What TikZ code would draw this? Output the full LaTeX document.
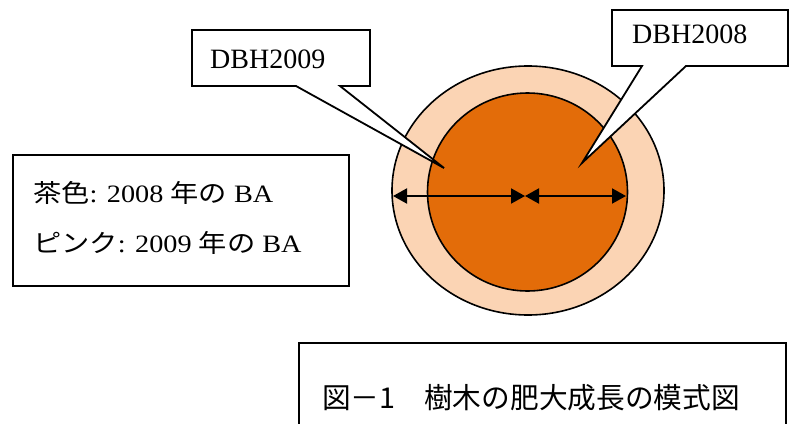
\documentclass[tikz,border=0pt]{standalone}
\usepackage{fontspec}
\usepackage{graphicx}
\setmainfont{Liberation Serif}
\newfontfamily\cjk{Noto Sans CJK JP}
\usetikzlibrary{arrows.meta}
\definecolor{ringpeach}{HTML}{FBD4B4}
\definecolor{coreorange}{HTML}{E36C09}
\tikzset{
  boxline/.style={draw=black, line width=1.8pt, fill=white, line join=miter},
  ringline/.style={draw=black, line width=1.6pt},
  dimarrow/.style={line width=2pt, {Triangle[length=14pt,width=15pt]}-{Triangle[length=14pt,width=15pt]}},
  lbl/.style={inner sep=0pt, anchor=base west},
}
\newcommand{\legtext}[1]{\scalebox{1.13}[1]{\fontsize{25}{27}\selectfont #1}}
\begin{document}
\begin{tikzpicture}[x=1pt,y=-1pt]
\useasboundingbox (0,0) rectangle (789,423);
% tree rings
\draw[ringline, fill=ringpeach] (528,190.5) ellipse [x radius=136, y radius=124.5];
\draw[ringline, fill=coreorange] (527.5,192) ellipse [x radius=100, y radius=99];
% dimension arrows
\coordinate (L) at (393,196);
\coordinate (M) at (525,196);
\coordinate (R) at (626,196);
\draw[dimarrow] (L) -- (M);
\draw[dimarrow] (M) -- (R);
% callout DBH2009
\coordinate (t09) at (444,168);
\draw[boxline] (192,30) -- (370,30) -- (370,86) -- (340,86) -- (t09) -- (296,86) -- (192,86) -- cycle;
\node[lbl, font=\fontsize{28}{30}\selectfont] (dbh09) at (210,68) {DBH2009};
% callout DBH2008
\coordinate (t08) at (582,163);
\draw[boxline] (612,10) -- (788,10) -- (788,66) -- (686,66) -- (t08) -- (642,66) -- (612,66) -- cycle;
\node[lbl, font=\fontsize{28}{30}\selectfont] (dbh08) at (632,43) {DBH2008};
% legend
\draw[boxline] (13,155) rectangle (349,286);
\node[lbl] (leg1) at (33,202) {\legtext{{\cjk 茶色}: 2008 {\cjk 年の} BA}};
\node[lbl] (leg2) at (33,252) {\legtext{{\cjk ピンク}: 2009 {\cjk 年の} BA}};
% caption
\begin{scope}
\clip (0,0) rectangle (789,423);
\draw[boxline] (299,343) rectangle (786,440);
\end{scope}
\node[lbl, font=\cjk\fontsize{28.7}{30}\selectfont] (cap) at (322,408.5) {図－1　樹木の肥大成長の模式図};
\end{tikzpicture}
\end{document}
